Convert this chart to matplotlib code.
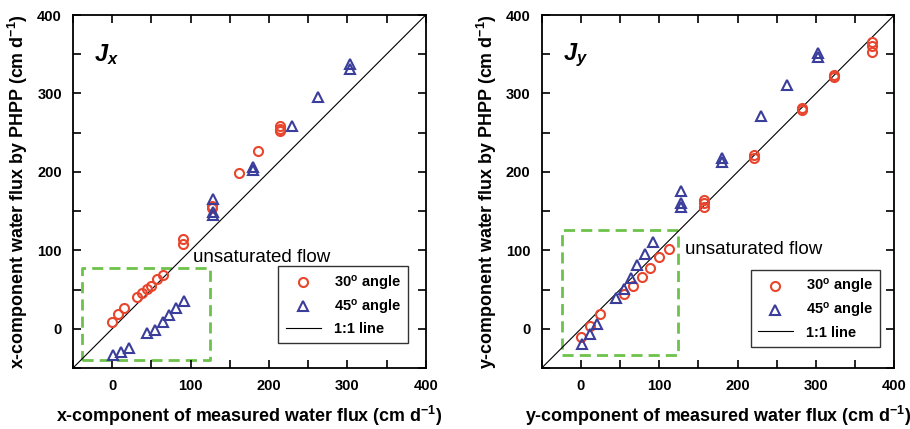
import matplotlib
matplotlib.use("Agg")
import matplotlib.pyplot as plt

plt.rcParams["font.family"] = ["Liberation Sans", "DejaVu Sans"]
plt.rcParams["font.weight"] = "bold"
plt.rcParams["axes.labelweight"] = "bold"
plt.rcParams["mathtext.fontset"] = "custom"
plt.rcParams["mathtext.rm"] = "Liberation Sans:bold"
plt.rcParams["mathtext.bf"] = "Liberation Sans:bold"
plt.rcParams["mathtext.it"] = "Liberation Sans:italic:bold"
plt.rcParams["mathtext.bfit"] = "Liberation Sans:italic:bold"

# ---- data: x-component panel
jx_30_meas = [0, 7, 15, 32, 38, 44, 50, 57, 65, 90, 90, 127, 127, 162, 186, 214, 214, 214]
jx_30_phpp = [9, 19, 27, 40, 46, 51, 55, 63, 68, 108, 114, 154, 157, 198, 227, 252, 255, 259]
jx_45_meas = [1, 11, 21, 45, 55, 65, 73, 82, 92, 128, 128, 128, 180, 180, 230, 263, 303, 303]
jx_45_phpp = [-33, -29, -24, -6, -1, 9, 17, 27, 36, 166, 149, 145, 206, 202, 258, 296, 337, 331]

# ---- data: y-component panel
jy_30_meas = [0, 12, 25, 55, 66, 78, 88, 100, 112, 157, 157, 157, 221, 221, 282, 282, 323, 323, 371, 371, 371]
jy_30_phpp = [-11, 4, 19, 44, 55, 66, 78, 91, 102, 155, 160, 164, 218, 222, 279, 281, 321, 323, 353, 360, 366]
jy_45_meas = [1, 11, 21, 45, 55, 64, 72, 82, 92, 128, 128, 128, 180, 180, 230, 263, 303, 303]
jy_45_phpp = [-19, -7, 6, 39, 51, 65, 81, 95, 110, 176, 160, 155, 218, 212, 271, 311, 351, 346]

RED = "#e8452c"
BLUE = "#3a3d9a"
GREEN = "#6cc24a"


def draw_panel(ax, m30, p30, m45, p45, box, note_xy, sub, comp, leg_anchor):
    ax.plot([-50, 400], [-50, 400], color="black", lw=0.8, label="1:1 line", zorder=2)
    ax.plot(m30, p30, "o", ms=6.5, mfc="none", mec=RED, mew=1.5, ls="none",
            label="30$^{\\mathrm{o}}$ angle", zorder=3)
    ax.plot(m45, p45, "^", ms=7, mfc="none", mec=BLUE, mew=1.5, ls="none",
            label="45$^{\\mathrm{o}}$ angle", zorder=3)
    x0, x1, y0, y1 = box
    ax.plot([x0, x1, x1, x0, x0], [y0, y0, y1, y1, y0], color=GREEN, lw=2,
            ls=(0, (4, 2.2)), zorder=1)
    ax.text(note_xy[0], note_xy[1], "unsaturated flow", fontsize=13.5,
            fontweight="normal", va="center", ha="left")
    ax.text(-7, 349, "$\\mathbfit{J}_{\\mathbfit{%s}}$" % sub, fontsize=17,
            va="center", ha="center")
    ax.set_xlim(-50, 400)
    ax.set_ylim(-50, 400)
    ax.set_xticks([0, 100, 200, 300, 400])
    ax.set_yticks([0, 100, 200, 300, 400])
    ax.set_xticks([-50, 50, 150, 250, 350], minor=True)
    ax.set_yticks([-50, 50, 150, 250, 350], minor=True)
    ax.tick_params(which="both", direction="in", top=True, right=True,
                   labelsize=10.5, width=1.2, pad=8)
    ax.tick_params(which="major", length=6)
    ax.tick_params(which="minor", length=6)
    for sp in ax.spines.values():
        sp.set_linewidth(1.3)
    ax.set_xlabel("%s-component of measured water flux (cm d$^{-1}$)" % comp,
                  fontsize=12.9, labelpad=8)
    ax.set_ylabel("%s-component water flux by PHPP (cm d$^{-1}$)" % comp,
                  fontsize=12.9, labelpad=5)
    h, l = ax.get_legend_handles_labels()
    leg = ax.legend([h[1], h[2], h[0]], [l[1], l[2], l[0]], loc="lower right",
                    bbox_to_anchor=leg_anchor, fancybox=False, edgecolor="black",
                    fontsize=10.5, handlelength=2.4, borderpad=0.5, labelspacing=0.35,
                    handletextpad=0.9, borderaxespad=0)
    leg.get_frame().set_linewidth(1.0)


fig = plt.figure(figsize=(9.1, 4.29), dpi=100)
ax1 = fig.add_axes([0.0802, 0.1422, 0.3876, 0.8228])
ax2 = fig.add_axes([0.5953, 0.1422, 0.3874, 0.8228])

draw_panel(ax1, jx_30_meas, jx_30_phpp, jx_45_meas, jx_45_phpp,
           (-38.5, 125, -40, 77.5), (103, 91), "x", "x", (0.95, 0.07))
draw_panel(ax2, jy_30_meas, jy_30_phpp, jy_45_meas, jy_45_phpp,
           (-24.5, 123.5, -34, 126.5), (133, 101), "y", "y", (0.96, 0.06))

fig.savefig("out.png", dpi=100)
